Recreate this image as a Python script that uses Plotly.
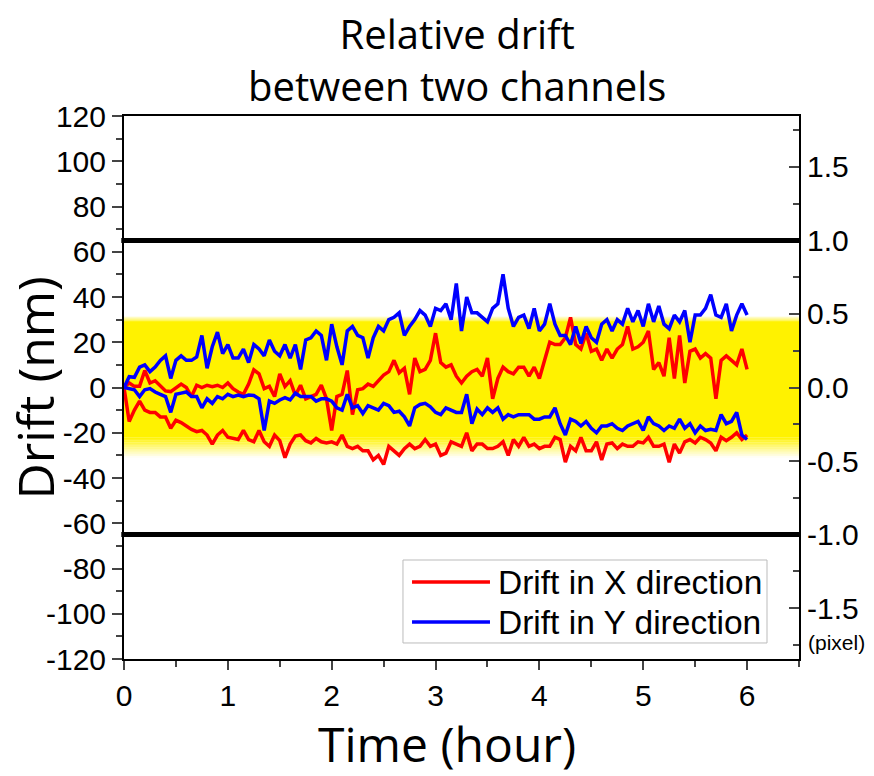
import numpy as np
import plotly.graph_objects as go

# Time axis (hours), sample every 0.05 h
time_h = [round(i * 0.05, 2) for i in range(121)]

# Drift in X direction, two measurements (nm)
drift_x_a = [0, 2, 0.5, 0.5, 7.5, 2, 3, 1, -1.5, -1.8, 0, 1.5, 0, -4, 1, 0, 1, 0.4, 1, 0,
             2, -0.5, -2, -3, 1.5, 7.8, 6, -0.5, 0.5, -4, 6,
             0.4, 3, -3.5, 1, -5, -4, -3, 1, -5, -19, -4, -3, 7.5, -12, -1, -0.5, 1.5, 0.5, 3, 5.5,
             7, 12, 6.5, 8.5, -3, 13, 7, 8, 12, 24, 11, 9,
             10, 5, 2, 5, 7, 8, 5, 13, -5, 4, 9, 7, 6, 9, 9, 5, 9, 4, 12, 20,
             19, 19, 22, 31, 19, 17, 24, 16, 17, 12,
             17, 13, 17, 19, 27, 17, 18, 20, 25, 8, 11, 5, 22, 4, 23, 2, 16, 17, 13, 15,
             13, -5, 12, 14, 12, 10, 17, 8]
drift_x_b = [0, -15, -10, -6, -10, -11, -11, -13, -13, -18, -14.5, -15.5, -17, -18.5, -19.5, -19, -21, -25, -21, -19,
             -22, -22.5, -23, -19, -23, -24, -19, -24, -26, -21, -23.5,
             -31, -25, -21.5, -21, -23.5, -24.5, -22.5, -24, -24.5, -24, -25, -21, -26, -27, -26, -28, -28, -32, -30, -34,
             -26, -28, -30, -27, -25, -27, -26, -23, -26, -25, -30, -29,
             -24, -25, -26, -20, -28, -25, -25, -27, -27, -26, -24, -30, -23, -26, -22, -26, -25, -27, -26, -26,
             -22, -23, -33, -26, -28, -22, -28, -28, -24, -32,
             -25, -24.5, -27, -25, -26, -26, -24, -24.5, -22, -26, -26, -25, -33, -25, -29, -24, -23, -24.5, -22, -23,
             -24.5, -28, -22, -23.5, -22, -20, -23, -21]

# Drift in Y direction, two measurements (nm)
drift_y_a = [0, 4.8, 4.5, 9, 10, 7, 9, 12, 14, 4, 12, 14, 12, 12, 13.5, 23, 8.5, 18, 24.5, 15,
             19, 13, 13, 17, 11, 19, 17, 14, 21, 16, 14,
             19, 13, 19, 8, 21, 22, 25, 23, 12, 28, 18, 10, 25, 27, 23, 22, 13, 22, 27, 25,
             30, 31, 33, 23, 27, 30, 34, 32, 27, 35, 34, 37,
             30, 46, 25, 40, 33, 33, 31, 29, 35, 37, 50, 35, 27, 31, 32, 26, 35, 25, 28, 37,
             28, 23, 23, 19, 27, 19.5, 27, 22, 20, 28,
             30, 25, 30, 28, 35, 29, 34, 27, 37, 29, 36, 28, 26, 32, 29, 34, 20, 32, 32, 35,
             41, 32, 31, 37, 25, 32, 37, 32]
drift_y_b = [0, -0.5, -1, -4, -1, -0.5, -2, -3, -4, -11, -3, -2.5, -2, -4, -4, -9, -5, -7, -4, -5,
             -3, -4, -3.3, -4, -3.3, -3.5, -5, -19, -6, -7, -5.5,
             -4.5, -5.5, -2.5, -4, -4, -4, -6, -5, -5, -6, -9, -10, -3, -9, -8, -11.5, -8, -9, -10, -7,
             -8, -11, -10.5, -13, -17, -9, -7.5, -7, -8.5, -11, -12, -9,
             -10, -11, -11, -3, -16, -9.5, -12, -9, -11, -9, -14, -12, -13, -12, -12, -12, -14, -14, -13, -13,
             -9, -16, -21, -14, -15, -17, -15, -18, -20, -17,
             -17, -16, -18, -19, -17, -16, -15, -19, -13, -16, -17, -19, -17, -18, -14, -18, -16, -20, -17, -19,
             -18.5, -19, -12, -16, -15, -11, -21, -23]

# Axis ticks
y_left_ticks = [-120, -100, -80, -60, -40, -20, 0, 20, 40, 60, 80, 100, 120]
y_left_labels = ["-120", "-100", "-80", "-60", "-40", "-20", "0", "20", "40", "60", "80", "100", "120"]
y_right_ticks = [-1.5, -1.0, -0.5, 0.0, 0.5, 1.0, 1.5]
y_right_labels = ["-1.5", "-1.0", "-0.5", "0.0", "0.5", "1.0", "1.5"]
x_ticks = [0, 1, 2, 3, 4, 5, 6]
NM_PER_PIXEL = 65
LIMIT_NM = 65

RED = "#ff0000"
BLUE = "#0000ff"
TICKFONT = dict(family="Liberation Sans, Arial, sans-serif", size=30, color="black")

fig = go.Figure()
for ys, color, name in [(drift_x_a, RED, "Drift in X direction"),
                        (drift_x_b, RED, "Drift in X direction"),
                        (drift_y_a, BLUE, "Drift in Y direction"),
                        (drift_y_b, BLUE, "Drift in Y direction")]:
    fig.add_trace(go.Scatter(x=time_h, y=ys, mode="lines", name=name,
                             line=dict(color=color, width=3.5), showlegend=False))

# same data in pixel units on the right axis (invisible, anchors the pixel axis)
fig.add_trace(go.Scatter(x=time_h, y=[v / NM_PER_PIXEL for v in drift_x_a], yaxis="y2",
                         mode="lines", line=dict(width=0), opacity=0, hoverinfo="skip",
                         showlegend=False))

shapes = []
# yellow tolerance band with soft edges
def band(y0, y1, a):
    shapes.append(dict(type="rect", xref="paper", x0=0, x1=1, yref="y", y0=y0, y1=y1,
                       fillcolor=f"rgba(255,242,0,{a:.3f})", line=dict(width=0), layer="below"))
band(-22, 29, 1.0)
top_edges = np.linspace(29, 31.5, 6)
for i in range(5):
    band(top_edges[i], top_edges[i + 1], 1 - (i + 0.5) / 5)
bot_edges = np.linspace(-22, -31, 13)
for i in range(12):
    band(bot_edges[i + 1], bot_edges[i], 1 - (i + 0.5) / 12)

# pixel limit lines
for yv in (LIMIT_NM, -LIMIT_NM):
    shapes.append(dict(type="line", xref="paper", x0=-0.004, x1=1, yref="y", y0=yv, y1=yv,
                       line=dict(color="black", width=5)))

# legend (custom, to match long line samples)
shapes.append(dict(type="rect", xref="paper", yref="paper", x0=0.4133, x1=0.9526, y0=0.0295, y1=0.1823,
                   fillcolor="white", line=dict(color="#bbbbbb", width=1)))
leg_items = [("Drift in X direction", RED, 0.1418), ("Drift in Y direction", BLUE, 0.0681)]
annotations = []
for txt, col, yp in leg_items:
    shapes.append(dict(type="line", xref="paper", yref="paper", x0=0.4267, x1=0.5422, y0=yp, y1=yp,
                       line=dict(color=col, width=3.5)))
    annotations.append(dict(text=txt, xref="paper", yref="paper", x=0.551, y=yp, xanchor="left",
                            yanchor="middle", showarrow=False,
                            font=dict(family="Liberation Sans, Arial, sans-serif", size=33.5, color="black")))

annotations += [
    dict(text="Relative drift<br>between two channels", xref="paper", yref="paper", x=0.494, y=1.104,
         xanchor="center", yanchor="middle", showarrow=False,
         font=dict(family="Open Sans, sans-serif", size=40, color="black")),
    dict(text="Drift (nm)", xref="paper", yref="paper", x=-0.1311, y=0.499, textangle=-90,
         xanchor="center", yanchor="middle", showarrow=False,
         font=dict(family="Open Sans, sans-serif", size=50, color="black")),
    dict(text="Time (hour)", xref="paper", yref="paper", x=0.4785, y=-0.1547,
         xanchor="center", yanchor="middle", showarrow=False,
         font=dict(family="Open Sans, sans-serif", size=48, color="black")),
    dict(text="(pixel)", xref="paper", yref="paper", x=1.055, y=0.031,
         xanchor="center", yanchor="middle", showarrow=False,
         font=dict(family="Liberation Sans, Arial, sans-serif", size=21, color="black")),
]

fig.update_layout(
    width=874, height=776,
    margin=dict(l=124, r=75, t=116, b=117),
    paper_bgcolor="white", plot_bgcolor="white",
    shapes=shapes, annotations=annotations,
    xaxis=dict(range=[0, 6.5], tickvals=x_ticks, ticks="outside", ticklen=9, tickwidth=2,
               showline=True, linewidth=2, linecolor="black", mirror=True, showgrid=False,
               zeroline=False, tickfont=TICKFONT,
               minor=dict(dtick=0.5, tick0=0, ticks="outside", ticklen=6, tickwidth=2, showgrid=False)),
    yaxis=dict(range=[-120, 120], tickvals=y_left_ticks, ticktext=y_left_labels,
               ticks="outside", ticklen=10, tickwidth=2,
               showline=True, linewidth=2, linecolor="black", showgrid=False, zeroline=False,
               tickfont=TICKFONT,
               minor=dict(dtick=10, tick0=0, ticks="outside", ticklen=6, tickwidth=2, showgrid=False)),
    yaxis2=dict(range=[-120 / NM_PER_PIXEL, 120 / NM_PER_PIXEL], overlaying="y", side="right",
                tickvals=y_right_ticks, ticktext=y_right_labels, ticks="inside", ticklen=10, tickwidth=2,
                showline=True, linewidth=2, linecolor="black", showgrid=False, zeroline=False,
                tickfont=TICKFONT,
                minor=dict(dtick=0.25, tick0=0, ticks="inside", ticklen=6, tickwidth=2, showgrid=False)),
)

fig.write_html("out.html")
